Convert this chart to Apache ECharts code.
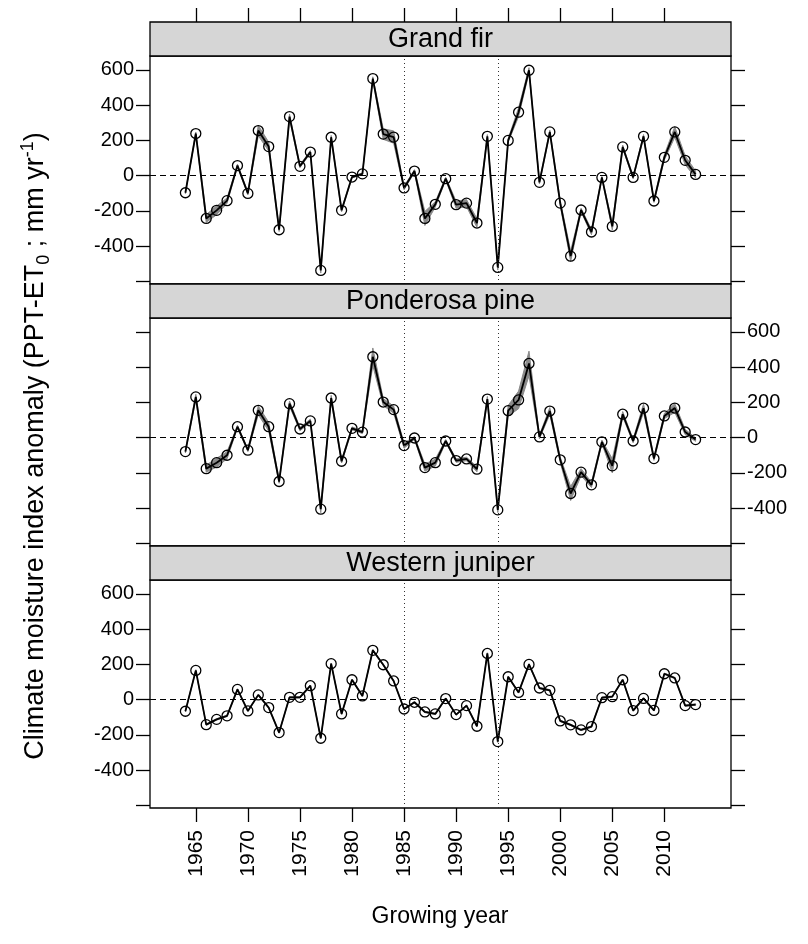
<!DOCTYPE html>
<html>
<head>
<meta charset="utf-8">
<script src="https://cdn.jsdelivr.net/npm/echarts@6/dist/echarts.min.js"></script>
<style>
  html, body { margin: 0; padding: 0; background: #fff; }
  #grafico { width: 808px; height: 944px; }
</style>
</head>
<body>
<div id="grafico"></div>
<script>
// dados
var anos = [1964, 1965, 1966, 1967, 1968, 1969, 1970, 1971, 1972, 1973,
            1974, 1975, 1976, 1977, 1978, 1979, 1980, 1981, 1982, 1983,
            1984, 1985, 1986, 1987, 1988, 1989, 1990, 1991, 1992, 1993,
            1994, 1995, 1996, 1997, 1998, 1999, 2000, 2001, 2002, 2003,
            2004, 2005, 2006, 2007, 2008, 2009, 2010, 2011, 2012, 2013];

var paineis = ["Grand fir", "Ponderosa pine", "Western juniper"];

var grandFir = [-97, 239, -243, -197, -142, 57, -101, 256, 165, -307,
                335, 53, 134, -538, 218, -197, -8, 10, 551, 236,
                219, -70, 26, -243, -163, -17, -165, -156, -269, 223,
                -521, 200, 360, 598, -38, 248, -156, -457, -195, -320,
                -10, -288, 163, -10, 223, -144, 104, 248, 87, 7];

var ponderosa = [-79, 231, -176, -142, -100, 62, -71, 155, 62, -249,
                 193, 49, 95, -406, 225, -134, 53, 31, 459, 202,
                 159, -45, -2, -170, -142, -19, -130, -121, -179, 219,
                 -410, 153, 214, 421, 4, 151, -126, -317, -196, -268,
                 -24, -160, 133, -19, 167, -119, 123, 168, 32, -11];

var juniper = [-66, 166, -142, -112, -92, 58, -64, 27, -45, -187,
               13, 13, 79, -219, 204, -81, 113, 21, 280, 198,
               106, -53, -15, -70, -81, 6, -85, -34, -151, 262,
               -238, 130, 41, 200, 66, 53, -121, -143, -172, -153,
               11, 17, 113, -62, 7, -61, 147, 123, -34, -28];

// meia largura da faixa cinza (incerteza)
var faixaFir = [5, 8, 22, 25, 15, 8, 8, 30, 25, 10,
                15, 8, 8, 15, 10, 8, 5, 5, 10, 30,
                35, 10, 8, 40, 15, 8, 20, 20, 25, 10,
                15, 10, 25, 15, 8, 10, 15, 30, 10, 15,
                5, 20, 10, 8, 10, 8, 15, 30, 25, 20];

var faixaPine = [8, 15, 20, 25, 20, 8, 8, 25, 25, 10,
                 15, 10, 10, 20, 15, 10, 8, 8, 50, 20,
                 20, 15, 8, 20, 20, 8, 10, 10, 15, 15,
                 15, 30, 50, 70, 10, 20, 15, 40, 20, 15,
                 10, 40, 15, 10, 25, 10, 15, 25, 15, 10];

var faixaJuniper = [4, 4, 4, 4, 4, 4, 4, 4, 4, 4,
                    4, 4, 4, 4, 4, 4, 4, 4, 5, 4,
                    4, 4, 4, 4, 4, 4, 4, 4, 4, 4,
                    5, 4, 4, 5, 4, 4, 4, 4, 4, 4,
                    4, 4, 4, 4, 4, 4, 4, 4, 4, 4];

var ticksAnos = [1965, 1970, 1975, 1980, 1985, 1990, 1995, 2000, 2005, 2010];
var ticksY = [-600, -400, -200, 0, 200, 400, 600];
var rotulosY = [-400, -200, 0, 200, 400, 600];
var linhasVerticais = [1985, 1994];

var valores = [grandFir, ponderosa, juniper];
var faixas = [faixaFir, faixaPine, faixaJuniper];

// layout
var fonte = "Liberation Sans";
var esq = 150, larg = 581, altStrip = 34, altPainel = 228;
var topos = [56, 318, 580];

var grids = [], xAxes = [], yAxes = [], series = [], graficos = [];

topos.forEach((topo, i) => {
    grids.push({ left: esq, top: topo, width: larg, height: altPainel,
                 show: true, borderColor: "#000", borderWidth: 1.3, backgroundColor: "#fff" });

    xAxes.push({
        type: "value", gridIndex: i, min: 1960.6, max: 2016.4,
        position: "bottom",
        splitLine: { show: false },
        axisLine: { show: false, onZero: false },
        axisTick: { show: i == 2, length: 14, inside: false, customValues: ticksAnos,
                    lineStyle: { color: "#000", width: 1.3 } },
        axisLabel: { show: i == 2, rotate: 90, margin: 22, customValues: ticksAnos,
                     formatter: v => String(v),
                     color: "#000", fontFamily: fonte, fontSize: 21 }
    });

    var ladoRotulo = (i == 1) ? "right" : "left";
    ["left", "right"].forEach(lado => {
        yAxes.push({
            type: "value", gridIndex: i, min: -615, max: 679, position: lado,
            splitLine: { show: false },
            axisLine: { show: false, onZero: false },
            axisTick: { show: true, length: 14, customValues: ticksY,
                        lineStyle: { color: "#000", width: 1.3 } },
            axisLabel: { show: lado == ladoRotulo, margin: 16, customValues: rotulosY,
                         color: "#000", fontFamily: fonte, fontSize: 20 }
        });
    });

    var dadosFaixa = anos.map((a, k) => [a, valores[i][k] - faixas[i][k], valores[i][k] + faixas[i][k]]);

    series.push({
        type: "custom",
        xAxisIndex: i, yAxisIndex: i * 2,
        z: 1,
        silent: true,
        data: dadosFaixa,
        renderItem: (params, api) => {
            if (params.dataIndex !== 0) return;
            let pts = [];
            dadosFaixa.forEach(d => pts.push(api.coord([d[0], d[2]])));
            for (let k = dadosFaixa.length - 1; k >= 0; k--) {
                pts.push(api.coord([dadosFaixa[k][0], dadosFaixa[k][1]]));
            }
            return { type: "polygon", shape: { points: pts },
                     style: { fill: "#8a8a8a", stroke: "#8a8a8a", lineWidth: 1 } };
        }
    });

    series.push({
        type: "line",
        xAxisIndex: i, yAxisIndex: i * 2,
        z: 3,
        data: anos.map((a, k) => [a, valores[i][k]]),
        symbol: "circle",
        symbolSize: 10,
        lineStyle: { color: "#000", width: 1.8 },
        itemStyle: { color: "rgba(0,0,0,0)", borderColor: "#000", borderWidth: 1.3 },
        markLine: {
            silent: true,
            symbol: "none",
            label: { show: false },
            data: [
                { yAxis: 0, lineStyle: { type: [6, 4], color: "#000", width: 1 } }
            ].concat(linhasVerticais.map(v => ({ xAxis: v, lineStyle: { type: [1, 3], color: "#333", width: 1 } })))
        },
        animation: false
    });

    // faixa de titulo do painel
    graficos.push({
        type: "rect", z: 10,
        shape: { x: esq, y: topo - altStrip, width: larg, height: altStrip },
        style: { fill: "#d6d6d6", stroke: "#000", lineWidth: 1.3 }
    });
    graficos.push({
        type: "text", z: 11,
        x: esq + larg / 2, y: topo - altStrip / 2 + 1,
        style: { text: paineis[i], font: "27px " + fonte, fill: "#000",
                 align: "center", verticalAlign: "middle" }
    });
});

// eixo de ticks no topo (acima da faixa do primeiro painel)
xAxes.push({
    type: "value", gridIndex: 0, min: 1960.6, max: 2016.4,
    position: "top", offset: altStrip,
    splitLine: { show: false },
    axisLine: { show: false, onZero: false },
    axisTick: { show: true, length: 14, customValues: ticksAnos,
                lineStyle: { color: "#000", width: 1.3 } },
    axisLabel: { show: false }
});

// titulos dos eixos
graficos.push({
    type: "text", z: 11,
    x: 440, y: 917,
    style: { text: "Growing year", font: "23px " + fonte, fill: "#000",
             align: "center", verticalAlign: "middle" }
});
graficos.push({
    type: "text", z: 11,
    x: 36, y: 446,
    rotation: Math.PI / 2,
    style: {
        text: "{a|Climate moisture index anomaly (PPT-ET}{sub|0}{a| ; mm yr}{sup|-1}{a|)}",
        align: "center", verticalAlign: "middle",
        rich: {
            a: { fontFamily: fonte, fontSize: 27, fill: "#000", lineHeight: 34, verticalAlign: "middle" },
            sub: { fontFamily: fonte, fontSize: 18, fill: "#000", lineHeight: 34, verticalAlign: "bottom" },
            sup: { fontFamily: fonte, fontSize: 18, fill: "#000", lineHeight: 34, verticalAlign: "top" }
        }
    }
});

var grafico = echarts.init(document.getElementById("grafico"));
grafico.setOption({
    backgroundColor: "#fff",
    animation: false,
    grid: grids,
    xAxis: xAxes,
    yAxis: yAxes,
    series: series,
    graphic: graficos
});
</script>
</body>
</html>
